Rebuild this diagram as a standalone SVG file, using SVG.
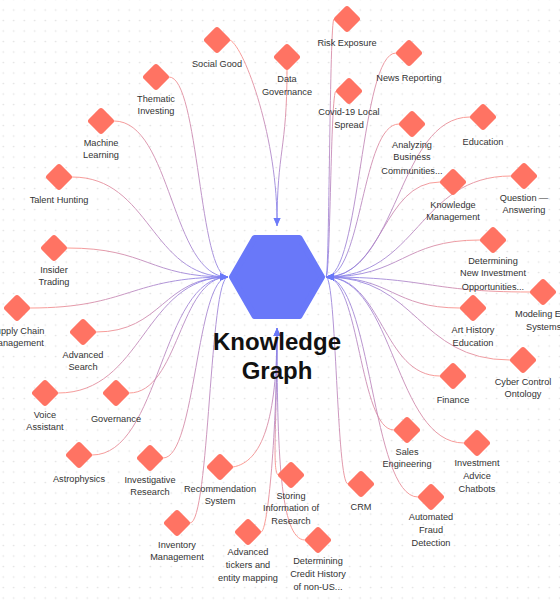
<svg xmlns="http://www.w3.org/2000/svg" xmlns:xlink="http://www.w3.org/1999/xlink" width="560" height="600" viewBox="0 0 560 600">
<style>
.lbl{font-family:"Liberation Sans",Arial,sans-serif;font-size:9.2px;fill:#333;text-anchor:middle}
.dia{fill:#FF7363}
.c{fill:none;stroke-width:1;opacity:0.85}
.cl{stroke:url(#gL);marker-end:url(#arr)}
.cr{stroke:url(#gR);marker-end:url(#arr)}
.ct{stroke:url(#gT);marker-end:url(#arr)}
.cb{stroke:url(#gB);marker-end:url(#arr)}
.title{font-family:"Liberation Sans",Arial,sans-serif;font-size:24px;font-weight:bold;fill:#111;text-anchor:middle}
</style>
<defs>
<pattern id="dots" x="-2" y="4.75" width="10.5" height="10.5" patternUnits="userSpaceOnUse">
<circle cx="5.25" cy="5.25" r="0.8" fill="#e0e0e0"/>
</pattern>
<linearGradient id="gL" x1="0" y1="0" x2="1" y2="0"><stop offset="0" stop-color="#FF8C80"/><stop offset="1" stop-color="#7A7FF6"/></linearGradient>
<linearGradient id="gR" x1="1" y1="0" x2="0" y2="0"><stop offset="0" stop-color="#FF8C80"/><stop offset="1" stop-color="#7A7FF6"/></linearGradient>
<linearGradient id="gT" x1="0" y1="0" x2="0" y2="1"><stop offset="0" stop-color="#FF8C80"/><stop offset="1" stop-color="#7A7FF6"/></linearGradient>
<linearGradient id="gB" x1="0" y1="1" x2="0" y2="0"><stop offset="0" stop-color="#FF8C80"/><stop offset="1" stop-color="#7A7FF6"/></linearGradient>
<marker id="arr" viewBox="0 0 8 8" refX="8" refY="4" markerWidth="8" markerHeight="8" markerUnits="userSpaceOnUse" orient="auto">
<path d="M0,0.5 L8,4 L0,7.5 z" fill="#6978F9"/>
</marker>
<rect id="dia" class="dia" x="-10" y="-10" width="20" height="20" rx="3" transform="rotate(45)"/>
</defs>
<rect width="560" height="600" fill="#fff"/>
<rect width="560" height="600" fill="url(#dots)"/>

<g id="connectors">
<path class="c ct" d="M230,40 C245,48 278,140 277,226"/>
<path class="c ct" d="M287,70 C287,150 277,150 277,226"/>
<path class="c cl" d="M169,77 C199,77 199,277 228,277"/>
<path class="c cl" d="M114,121 C171.5,121 171.5,277 228,277"/>
<path class="c cl" d="M72,177 C150.5,177 150.5,277 228,277"/>
<path class="c cl" d="M67,248 C148,248 148,277 228,277"/>
<path class="c cl" d="M30,308 C129.5,308 129.5,277 228,277"/>
<path class="c cl" d="M96,332 C162.5,332 162.5,277 228,277"/>
<path class="c cl" d="M58,393 C143.5,393 143.5,277 228,277"/>
<path class="c cl" d="M129,393 C179,393 179,277 228,277"/>
<path class="c cl" d="M92,455 C160.5,455 160.5,277 228,277"/>
<path class="c cl" d="M163,458 C196,458 196,277 228,277"/>
<path class="c cl" d="M190,523 C209.5,523 209.5,277 228,277"/>
<path class="c cb" d="M233,467 C262,462 277,420 277,328"/>
<path class="c cb" d="M261,532 C268,532 277,430 277,328"/>
<path class="c cb" d="M278,475 C272,470 277,420 277,328"/>
<path class="c cb" d="M305,540 C280,540 277,450 277,328"/>
<path class="c cr" d="M334,19 C329.5,19 329.5,277 326,277"/>
<path class="c cr" d="M396,53 C360.5,53 360.5,277 326,277"/>
<path class="c cr" d="M336,91 C330.5,91 330.5,277 326,277"/>
<path class="c cr" d="M399,124 C362,124 362,277 326,277"/>
<path class="c cr" d="M470,117 C397.5,117 397.5,277 326,277"/>
<path class="c cr" d="M440,182 C382.5,182 382.5,277 326,277"/>
<path class="c cr" d="M511,176 C418,176 418,277 326,277"/>
<path class="c cr" d="M480,240 C402.5,240 402.5,277 326,277"/>
<path class="c cr" d="M530,292 C427.5,292 427.5,277 326,277"/>
<path class="c cr" d="M460,308 C392.5,308 392.5,277 326,277"/>
<path class="c cr" d="M510,360 C417.5,360 417.5,277 326,277"/>
<path class="c cr" d="M440,376 C382.5,376 382.5,277 326,277"/>
<path class="c cr" d="M394,430 C359.5,430 359.5,277 326,277"/>
<path class="c cr" d="M464,443 C394.5,443 394.5,277 326,277"/>
<path class="c cr" d="M348,484 C336.5,484 336.5,277 326,277"/>
<path class="c cr" d="M418,497 C371.5,497 371.5,277 326,277"/>
</g>

<g id="hub">
<polygon points="232,277 254.5,238 299.5,238 322,277 299.5,316 254.5,316" fill="#6978F9" stroke="#6978F9" stroke-width="6" stroke-linejoin="round"/>
<text class="title" x="277" y="350">Knowledge</text>
<text class="title" x="277" y="379">Graph</text>
</g>

<g id="n-social-good"><use xlink:href="#dia" href="#dia" transform="translate(217,40)"/><text class="lbl" x="217" y="67">Social Good</text></g>
<g id="n-data-governance"><use href="#dia" transform="translate(287,57)"/><text class="lbl" x="287" y="82">Data</text><text class="lbl" x="287" y="95">Governance</text></g>
<g id="n-thematic"><use href="#dia" transform="translate(156,77)"/><text class="lbl" x="156" y="102">Thematic</text><text class="lbl" x="156" y="114">Investing</text></g>
<g id="n-machine-learning"><use href="#dia" transform="translate(101,121)"/><text class="lbl" x="101" y="146">Machine</text><text class="lbl" x="101" y="158">Learning</text></g>
<g id="n-talent"><use href="#dia" transform="translate(59,177)"/><text class="lbl" x="59" y="203">Talent Hunting</text></g>
<g id="n-insider"><use href="#dia" transform="translate(54,248)"/><text class="lbl" x="54" y="273">Insider</text><text class="lbl" x="54" y="285">Trading</text></g>
<g id="n-supply"><use href="#dia" transform="translate(17,308)"/><text class="lbl" x="17" y="334">Supply Chain</text><text class="lbl" x="17" y="346">Management</text></g>
<g id="n-adv-search"><use href="#dia" transform="translate(83,332)"/><text class="lbl" x="83" y="358">Advanced</text><text class="lbl" x="83" y="370">Search</text></g>
<g id="n-voice"><use href="#dia" transform="translate(45,393)"/><text class="lbl" x="45" y="418">Voice</text><text class="lbl" x="45" y="430">Assistant</text></g>
<g id="n-governance"><use href="#dia" transform="translate(116,393)"/><text class="lbl" x="116" y="422">Governance</text></g>
<g id="n-astro"><use href="#dia" transform="translate(79,455)"/><text class="lbl" x="79" y="482">Astrophysics</text></g>
<g id="n-investigative"><use href="#dia" transform="translate(150,458)"/><text class="lbl" x="150" y="483">Investigative</text><text class="lbl" x="150" y="495">Research</text></g>
<g id="n-inventory"><use href="#dia" transform="translate(177,523)"/><text class="lbl" x="177" y="548">Inventory</text><text class="lbl" x="177" y="560">Management</text></g>
<g id="n-recommendation"><use href="#dia" transform="translate(220,467)"/><text class="lbl" x="220" y="492">Recommendation</text><text class="lbl" x="220" y="504">System</text></g>
<g id="n-tickers"><use href="#dia" transform="translate(248,532)"/><text class="lbl" x="248" y="555">Advanced</text><text class="lbl" x="248" y="568">tickers and</text><text class="lbl" x="248" y="581">entity mapping</text></g>
<g id="n-storing"><use href="#dia" transform="translate(291,475)"/><text class="lbl" x="291" y="499">Storing</text><text class="lbl" x="291" y="511">Information of</text><text class="lbl" x="291" y="524">Research</text></g>
<g id="n-credit"><use href="#dia" transform="translate(318,540)"/><text class="lbl" x="318" y="564">Determining</text><text class="lbl" x="318" y="577">Credit History</text><text class="lbl" x="318" y="590">of non-US...</text></g>
<g id="n-risk"><use href="#dia" transform="translate(347,19)"/><text class="lbl" x="347" y="46">Risk Exposure</text></g>
<g id="n-news"><use href="#dia" transform="translate(409,53)"/><text class="lbl" x="409" y="81">News Reporting</text></g>
<g id="n-covid"><use href="#dia" transform="translate(349,91)"/><text class="lbl" x="349" y="115">Covid-19 Local</text><text class="lbl" x="349" y="128">Spread</text></g>
<g id="n-analyzing"><use href="#dia" transform="translate(412,124)"/><text class="lbl" x="412" y="148">Analyzing</text><text class="lbl" x="412" y="160">Business</text><text class="lbl" x="412" y="174">Communities...</text></g>
<g id="n-education"><use href="#dia" transform="translate(483,117)"/><text class="lbl" x="483" y="145">Education</text></g>
<g id="n-km"><use href="#dia" transform="translate(453,182)"/><text class="lbl" x="453" y="208">Knowledge</text><text class="lbl" x="453" y="220">Management</text></g>
<g id="n-qa"><use href="#dia" transform="translate(524,176)"/><text class="lbl" x="524" y="201">Question —</text><text class="lbl" x="524" y="213">Answering</text></g>
<g id="n-new-inv"><use href="#dia" transform="translate(493,240)"/><text class="lbl" x="493" y="264">Determining</text><text class="lbl" x="493" y="276">New Investment</text><text class="lbl" x="493" y="290">Opportunities...</text></g>
<g id="n-modeling"><use href="#dia" transform="translate(543,292)"/><text class="lbl" x="515" y="317" style="text-anchor:start">Modeling E</text><text class="lbl" x="526" y="330" style="text-anchor:start">Systems</text></g>
<g id="n-art"><use href="#dia" transform="translate(473,308)"/><text class="lbl" x="473" y="333">Art History</text><text class="lbl" x="473" y="346">Education</text></g>
<g id="n-cyber"><use href="#dia" transform="translate(523,360)"/><text class="lbl" x="523" y="385">Cyber Control</text><text class="lbl" x="523" y="397">Ontology</text></g>
<g id="n-finance"><use href="#dia" transform="translate(453,376)"/><text class="lbl" x="453" y="403">Finance</text></g>
<g id="n-sales"><use href="#dia" transform="translate(407,430)"/><text class="lbl" x="407" y="455">Sales</text><text class="lbl" x="407" y="467">Engineering</text></g>
<g id="n-advice"><use href="#dia" transform="translate(477,443)"/><text class="lbl" x="477" y="466">Investment</text><text class="lbl" x="477" y="479">Advice</text><text class="lbl" x="477" y="492">Chatbots</text></g>
<g id="n-crm"><use href="#dia" transform="translate(361,484)"/><text class="lbl" x="361" y="510">CRM</text></g>
<g id="n-fraud"><use href="#dia" transform="translate(431,497)"/><text class="lbl" x="431" y="520">Automated</text><text class="lbl" x="431" y="533">Fraud</text><text class="lbl" x="431" y="546">Detection</text></g>
</svg>
